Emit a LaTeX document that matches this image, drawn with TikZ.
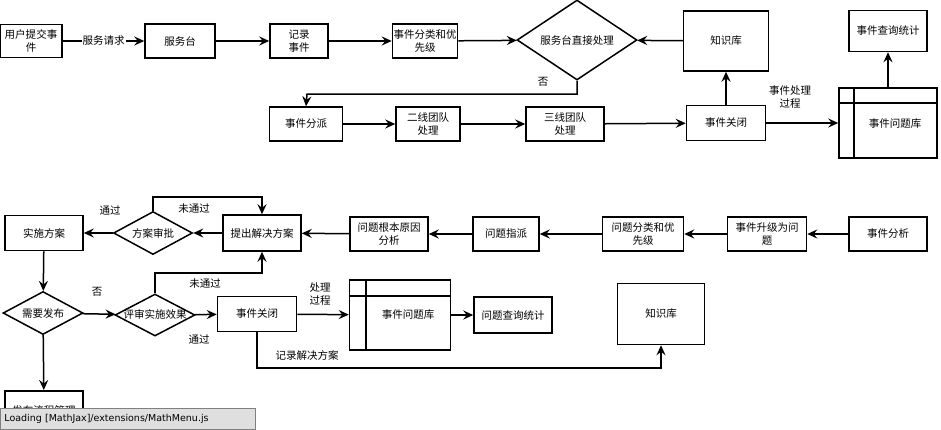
\documentclass[tikz,border=0pt]{standalone}
\usepackage{fontspec}
\setmainfont{Noto Sans CJK SC}
\usetikzlibrary{shapes.geometric,arrows.meta}
\begin{document}
\begin{tikzpicture}[x=1pt,y=-1pt,
  every node/.style={font=\fontsize{10.5}{13}\selectfont},
  bx/.style={draw,line width=1.5pt,minimum width=#1,minimum height=34pt,inner sep=1pt,align=center},
  bx/.default=78pt,
  ar/.style={line width=1.5pt,-{Stealth[length=10pt,width=9pt,inset=3.5pt]}},
  ln/.style={line width=1.5pt},
  lb/.style={font=\fontsize{10.5}{12.5}\selectfont,align=center}]
\useasboundingbox (0,0) rectangle (941,429);
\clip (0,0) rectangle (941,429);
% row 1
\node[bx=62pt,minimum height=33pt] (u) at (31,41) {用户提交事\\件};
\node[bx=70pt] (fwt) at (180,41) {服务台};
\node[bx=58pt] (jl) at (299,41) {记录\\事件};
\node[bx=60pt] (fl) at (425,41) {事件分类和优\\先级};
\node[draw,diamond,line width=1.5pt,inner sep=0pt,minimum width=120pt,minimum height=80pt,aspect=1.5] (d1) at (577,40) {服务台直接处理};
\node[bx=85pt,minimum height=60pt] (zs1) at (726,41) {知识库};
\node[bx=78pt,minimum height=41pt] (cx1) at (888,31) {事件查询统计};
% row 2
\node[bx=73pt] (fp) at (306,124) {事件分派};
\node[bx=64pt] (ex) at (428,124) {二线团队\\处理};
\node[bx=78pt] (sx) at (565,124) {三线团队\\处理};
\node[bx=79pt,minimum height=35pt] (gb1) at (726,123) {事件关闭};
\node[draw,line width=1.5pt,minimum width=98pt,minimum height=70pt] (k1) at (888,123) {};
\draw[ln] (854,88) -- (854,158) (839,103) -- (937,103);
\node at (895,124) {事件问题库};
% row 3
\node[bx=78pt] (fx) at (888,234) {事件分析};
\node[bx=79pt] (sj) at (767,234) {事件升级为问\\题};
\node[bx=81pt] (wf) at (643,234) {问题分类和优\\先级};
\node[bx=66pt] (zp) at (506,234) {问题指派};
\node[bx=78pt] (gy) at (389,234) {问题根本原因\\分析};
\node[bx=78pt,minimum height=36pt] (tc) at (262,233) {提出解决方案};
\node[draw,diamond,line width=1.5pt,inner sep=0pt,minimum width=79pt,minimum height=43pt,aspect=1.8] (sp) at (153,233) {方案审批};
\node[bx=78pt,minimum height=35pt] (ss) at (44,233) {实施方案};
% row 4
\node[draw,diamond,line width=1.5pt,inner sep=0pt,minimum width=80pt,minimum height=43pt,aspect=1.8] (fb) at (43,313) {需要发布};
\node[draw,diamond,line width=1.5pt,inner sep=0pt,minimum width=80pt,minimum height=42pt,aspect=1.9] (ps) at (155,315) {};
\node[bx=79pt,minimum height=35pt] (gb2) at (257,314) {事件关闭};
\draw[ar] (fb) -- (ps);
\draw[ar] (ps) -- (gb2);
\node at (155,314) {评审实施效果};
\node[draw,line width=1.5pt,minimum width=101pt,minimum height=70pt] (k2) at (400,315) {};
\draw[ln] (366,280) -- (366,350) (350,296) -- (451,296);
\node at (408,315) {事件问题库};
\node[bx=78pt,minimum height=36pt] (cx2) at (513,315) {问题查询统计};
\node[bx=87pt,minimum height=61pt] (zs2) at (661,314) {知识库};
\node[bx=78pt,minimum height=40pt,anchor=north] (fbl) at (44,390) {发布流程管理};
% arrows row1
\draw[ar] (u) -- node[fill=white,lb,inner sep=1pt]{服务请求} (fwt);
\draw[ar] (fwt) -- (jl);
\draw[ar] (jl) -- (fl);
\draw[ar] (fl) -- (d1);
\draw[ar] (zs1) -- (d1);
\draw[ar] (d1.south) -- (577,94) -- (307,94) -- (fp.north);
\node[lb] at (543,82) {否};
\draw[ar] (fp) -- (ex);
\draw[ar] (ex) -- (sx);
\draw[ar] (sx) -- (gb1);
\draw[ar] (gb1) -- (zs1);
\draw[ar] (gb1) -- (k1);
\node[lb] at (790,97) {事件处理\\过程};
\draw[ar] (k1) -- (cx1);
% row3
\draw[ar] (fx) -- (sj);
\draw[ar] (sj) -- (wf);
\draw[ar] (wf) -- (zp);
\draw[ar] (zp) -- (gy);
\draw[ar] (gy) -- (tc);
\draw[ar] (tc) -- (sp);
\draw[ar] (sp) -- (ss);
\node[lb] at (110,210) {通过};
\draw[ar] (sp.north) -- (153,197) -- (262,197) -- (tc.north);
\node[lb] at (194,209) {未通过};
% row4
\draw[ar] (ss) -- (fb);
\node[lb] at (97,292) {否};
\draw[ar] (ps.north) -- (155,273) -- (262,273) -- (tc.south);
\node[lb] at (205,284) {未通过};
\node[lb] at (199,339) {通过};
\draw[ar] (gb2) -- (k2);
\node[lb] at (320,294) {处理\\过程};
\draw[ar] (k2) -- (cx2);
\draw[ar] (gb2.south) -- (257,368) -- (661,368) -- (zs2.south);
\node[lb] at (307,355) {记录解决方案};
\draw[ar] (fb) -- (fbl);
% loading bar
\node[draw=gray,fill=gray!25,line width=0.8pt,anchor=north west,minimum width=255pt,minimum height=21pt,inner sep=4pt,text width=247pt,align=left,font=\fontsize{9.5}{11}\selectfont\fontspec{DejaVu Sans}] (ld) at (0,408) {Loading [MathJax]/extensions/MathMenu.js};
\end{tikzpicture}
\end{document}
